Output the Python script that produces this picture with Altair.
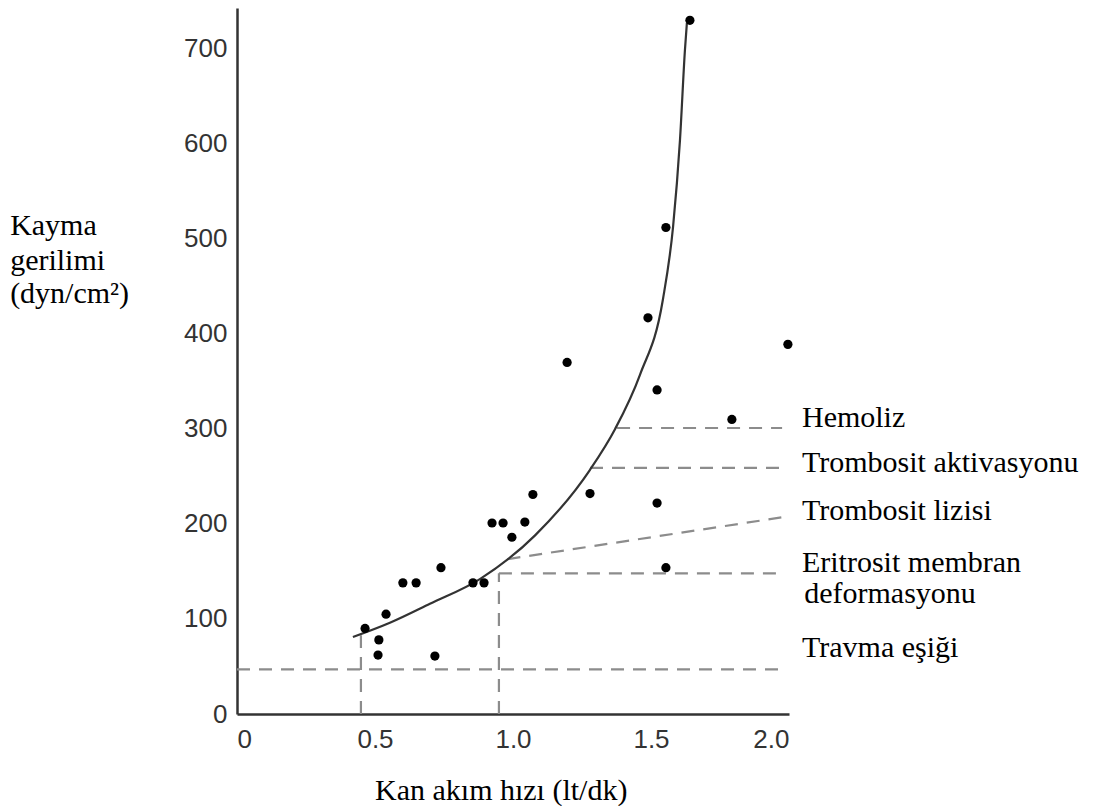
import altair as alt
import pandas as pd

# Scatter points: blood flow rate (lt/dk) vs shear stress (dyn/cm2)
flow = [0.464, 0.514, 0.511, 0.540, 0.601, 0.649, 0.739, 0.717, 0.855, 0.895,
        0.924, 0.964, 0.996, 1.043, 1.072, 1.196, 1.279, 1.489, 1.522, 1.522,
        1.554, 1.554, 1.641, 1.793, 1.996]
stress = [90, 78, 62, 105, 138, 138, 154, 61, 138, 138,
          201, 201, 186, 202, 231, 370, 232, 417, 341, 222,
          154, 512, 730, 310, 389]

# Fitted curve
curve_x = [0.42, 0.554, 0.699, 0.88, 1.08, 1.279, 1.37, 1.46,
           1.543, 1.58, 1.605, 1.623, 1.63]
curve_y = [81, 96, 116, 142, 188, 257, 300, 357,
           436, 513, 604, 699, 727]

# Dashed threshold segments
seg_x = [0.0, 0.449, 0.949, 0.949, 0.98, 1.279, 1.377]
seg_y = [47, 0, 0, 148, 163, 259, 301]
seg_x2 = [1.975, 0.449, 0.949, 1.975, 1.975, 1.975, 1.975]
seg_y2 = [47, 83, 148, 148, 207, 259, 301]

# Text lines: right-hand labels and axis titles (placed in data space)
text_lines = ["Hemoliz", "Trombosit aktivasyonu", "Trombosit lizisi",
              "Eritrosit membran", " deformasyonu", "Travma eşiği",
              "Kayma", "gerilimi", "(dyn/cm²)",
              "Kan akım hızı (lt/dk)"]
text_x = [2.047, 2.047, 2.047, 2.047, 2.055, 2.047,
          -0.822, -0.822, -0.822,
          0.50]
text_y = [302, 255, 204, 149, 117, 60,
          504, 467, 433,
          -90.5]

x_ticks = [0, 0.5, 1.0, 1.5, 2.0]
y_ticks = [0, 100, 200, 300, 400, 500, 600, 700]

pts = pd.DataFrame({"x": flow, "y": stress})
crv = pd.DataFrame({"x": curve_x, "y": curve_y})
segs = pd.DataFrame({"x": seg_x, "y": seg_y, "x2": seg_x2, "y2": seg_y2})
labs = pd.DataFrame({"x": text_x, "y": text_y, "t": text_lines})

SERIF = "Liberation Serif"

X = alt.X("x:Q",
          scale=alt.Scale(domain=[0, 2.0], nice=False, zero=False),
          axis=alt.Axis(values=x_ticks, title=None,
                        labelExpr="datum.value == 0 ? '0' : format(datum.value, '.1f')"))
Y = alt.Y("y:Q",
          scale=alt.Scale(domain=[0, 743], nice=False, zero=False),
          axis=alt.Axis(values=y_ticks, title=None))

rules = alt.Chart(segs).mark_rule(color="#8c8c8c", strokeWidth=2.2,
                                  strokeDash=[13, 9]).encode(
    x=X, y=Y, x2="x2:Q", y2="y2:Q")

line = alt.Chart(crv).mark_line(color="#333333", strokeWidth=2.2,
                                interpolate="monotone").encode(
    x=X, y=Y, order="x:Q")

points = alt.Chart(pts).mark_circle(color="black", opacity=1, size=85).encode(
    x=X, y=Y)

texts = alt.Chart(labs).mark_text(font=SERIF, fontSize=30,
                                  align="left", baseline="alphabetic",
                                  color="black").encode(
    x=X, y=Y, text="t:N")

chart = alt.layer(rules, line, points, texts).properties(
    width=552, height=706,
    autosize=alt.AutoSizeParams(type="none"),
    padding={"left": 229, "top": 0, "right": 299, "bottom": 92},
    background="white",
).configure_view(stroke=None).configure_axis(
    grid=False, ticks=False, tickSize=0,
    domainColor="#333333", domainWidth=2.5,
    labelFont="Liberation Sans", labelFontSize=26, labelColor="#333333",
).configure_axisX(labelPadding=12).configure_axisY(labelPadding=10)

chart.save("out.html", embed_options={"renderer": "svg", "actions": False})
